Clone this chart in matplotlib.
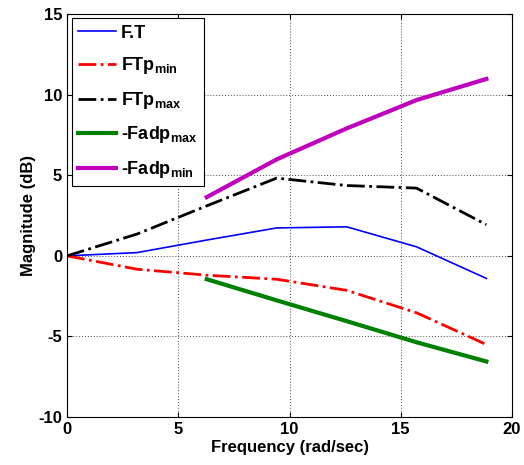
import numpy as np
import matplotlib
matplotlib.use("Agg")
import matplotlib.pyplot as plt

plt.rcParams['font.family'] = ['Liberation Sans', 'DejaVu Sans']
plt.rcParams['font.weight'] = 'bold'
plt.rcParams['mathtext.default'] = 'bf'
plt.rcParams['mathtext.fontset'] = 'custom'
plt.rcParams['mathtext.bf'] = 'Liberation Sans:bold'
plt.rcParams['axes.unicode_minus'] = False

# frequencies (rad/sec): multiples of pi
freq = [0, 3.14, 6.28, 9.42, 12.57, 15.71, 18.85]
freq_adp = [6.28, 9.42, 12.57, 15.71, 18.85]

ft = [0, 0.2, 0.98, 1.73, 1.8, 0.56, -1.4]
ftp_min = [0, -0.83, -1.2, -1.45, -2.14, -3.53, -5.5]
ftp_max = [0, 1.35, 3.1, 4.82, 4.36, 4.2, 1.93]
fadp_max = [-1.45, -2.76, -4.05, -5.36, -6.55]
fadp_min = [3.64, 5.98, 7.9, 9.66, 10.97]

fig = plt.figure(figsize=(5.24, 4.65), dpi=100)
ax = fig.add_axes([0.128, 0.103, 0.849, 0.867])

ax.plot(freq, ft, color='blue', lw=1.2, label='F.T')
ax.plot(freq, ftp_min, color='red', lw=2, ls='-.', label=r'FTp$_{min}$')
ax.plot(freq, ftp_max, color='black', lw=2, ls='-.', label=r'FTp$_{max}$')
ax.plot(freq_adp, fadp_max, color='green', lw=3, label=r'-Fadp$_{max}$')
ax.plot(freq_adp, fadp_min, color='m', lw=3, label=r'-Fadp$_{min}$')

ax.set_xlim(0, 20)
ax.set_ylim(-10, 15)
ax.set_xticks([0, 5, 10, 15, 20])
ax.set_yticks([-10, -5, 0, 5, 10, 15])
ax.grid(True, ls=(0, (1, 2)), color='0.3', lw=0.7)
ax.tick_params(direction='in', labelsize=12, top=True, right=True)
for lab in ax.get_xticklabels() + ax.get_yticklabels():
    lab.set_fontweight('bold')
ax.set_xlabel('Frequency (rad/sec)', fontsize=12, fontweight='bold', labelpad=2)
ax.set_ylabel('Magnitude (dB)', fontsize=12, fontweight='bold', labelpad=2)

leg = ax.legend(loc='upper left', fontsize=13, fancybox=False, framealpha=1,
                edgecolor='black', handlelength=2.1, handletextpad=0.3,
                borderaxespad=0.25, labelspacing=0.75, borderpad=0.35)
leg.get_frame().set_linewidth(0.8)

fig.savefig('out.png', dpi=100)
